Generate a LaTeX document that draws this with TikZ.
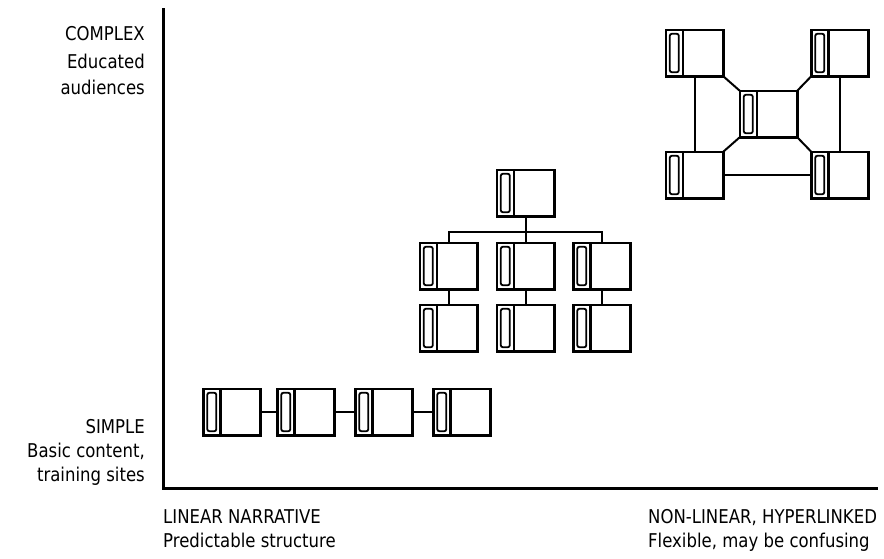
\documentclass[tikz,border=0pt]{standalone}
\usepackage{fontspec}
\setmainfont{DejaVu Sans}[FakeStretch=0.87]
\usetikzlibrary{positioning,calc}
\tikzset{
  axisline/.style={line width=3pt},
  icon/.style={minimum width=57pt, minimum height=46pt, inner sep=0pt},
  pgframe/.style={line width=2.6pt},
  spine/.style={line width=1.8pt, rounded corners=2pt},
  link/.style={line width=2pt},
  lbl/.style={font=\fontsize{19}{22}\selectfont, inner sep=0pt},
}
% one page icon: spine strip on the left, page on the right
\newcommand{\pageicon}[3]{%
  \node[icon] (#1) at (#2,#3) {};
  \draw[pgframe] (#1.south west) rectangle (#1.north east);
  \draw[pgframe] ($(#1.south west)+(17,0)$) -- ($(#1.north west)+(17,0)$);
  \draw[spine] ($(#1.south west)+(4,-4)$) rectangle ($(#1.north west)+(13,4)$);
}
\begin{document}
\begin{tikzpicture}[x=1pt,y=-1pt]
  \useasboundingbox (0,0) rectangle (884,558);
  % axes
  \coordinate (ytop) at (163,8);
  \coordinate (xend) at (878,488);
  \draw[axisline] (ytop) |- (xend);

  % axis labels
  \foreach \yy/\txt [count=\i] in {40/COMPLEX, 68/Educated, 94/audiences,
      433/SIMPLE, 457/{Basic content,}, 481/training sites}
    \node[lbl, anchor=base east] (ylab\i) at (145,\yy) {\txt};
  \node[lbl, anchor=base west] (lin) at (163,523) {LINEAR NARRATIVE};
  \node[lbl, anchor=base west] (lin2) at (163,547) {Predictable structure};
  \node[lbl, anchor=base west] (hyp) at (648,523) {NON-LINEAR, HYPERLINKED};
  \node[lbl, anchor=base west] (hyp2) at (648,547) {Flexible, may be confusing};

  % linear row
  \pageicon{l1}{232}{412}
  \pageicon{l2}{306}{412}
  \pageicon{l3}{384}{412}
  \pageicon{l4}{462}{412}
  \draw[link] (l1) -- (l2);
  \draw[link] (l2) -- (l3);
  \draw[link] (l3) -- (l4);

  % hierarchy
  \pageicon{h0}{525.5}{193}
  \pageicon{ha}{448.5}{266}
  \pageicon{hb}{525.5}{266}
  \pageicon{hc}{602}{266}
  \pageicon{ha2}{448.5}{328}
  \pageicon{hb2}{525.5}{328}
  \pageicon{hc2}{602}{328}
  \coordinate (bus) at (525.5,232);
  \draw[link] (h0.south) -- (hb.north);
  \draw[link] (ha.north) -- (ha.north |- bus) -- (hc.north |- bus) -- (hc.north);
  \draw[link] (ha) -- (ha2);
  \draw[link] (hb) -- (hb2);
  \draw[link] (hc) -- (hc2);

  % web
  \pageicon{wtl}{694.5}{53}
  \pageicon{wtr}{840}{53}
  \pageicon{wc}{768.5}{114}
  \pageicon{wbl}{694.5}{175}
  \pageicon{wbr}{840}{175}
  \draw[link] (wtl) -- (wbl);
  \draw[link] (wtr) -- (wbr);
  \draw[link] (wbl) -- (wbr);
  \draw[link] (wtl.south east) -- (wc.north west);
  \draw[link] (wtr.south west) -- (wc.north east);
  \draw[link] (wbl.north east) -- (wc.south west);
  \draw[link] (wbr.north west) -- (wc.south east);
\end{tikzpicture}
\end{document}
